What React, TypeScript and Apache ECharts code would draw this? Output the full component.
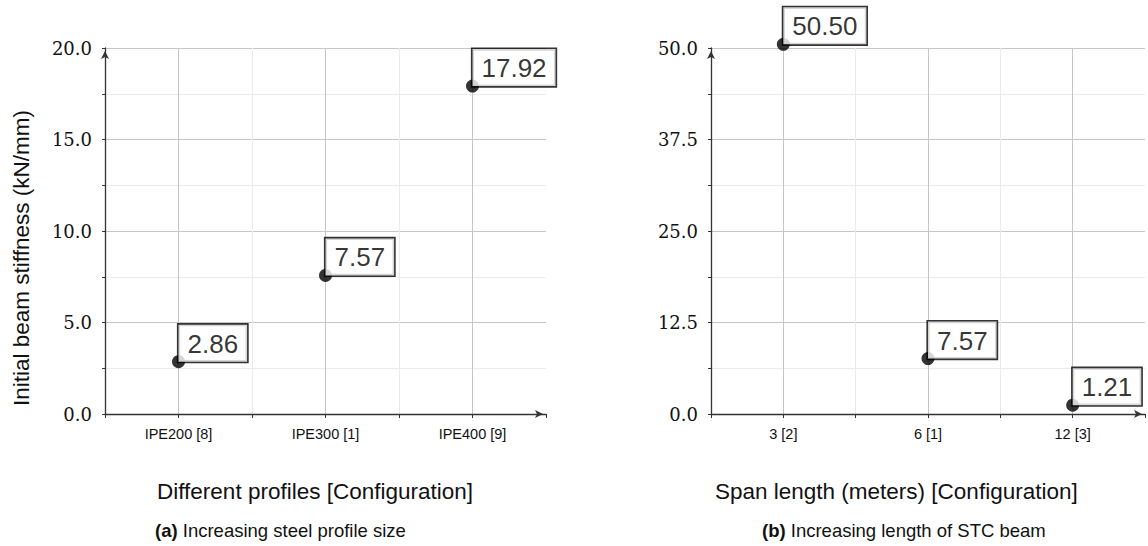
import React, { useEffect, useRef } from "react";
import * as echarts from "echarts";

const profileCategories = ["IPE200 [8]", "IPE300 [1]", "IPE400 [9]"];
const profileStiffness = [2.86, 7.57, 17.92];
const spanCategories = ["3 [2]", "6 [1]", "12 [3]"];
const spanStiffness = [50.5, 7.57, 1.21];

const leftYMax = 20;
const leftYStep = 2.5;
const leftYLabelStep = 5;
const rightYMax = 50;
const rightYStep = 6.25;
const rightYLabelStep = 12.5;

const yAxisTitle = "Initial beam stiffness (kN/mm)";
const leftXTitle = "Different profiles [Configuration]";
const rightXTitle = "Span length (meters) [Configuration]";
const leftCaptionTag = "(a)";
const leftCaption = " Increasing steel profile size";
const rightCaptionTag = "(b)";
const rightCaption = " Increasing length of STC beam";

const MAJOR = "#c6c6c6";
const MINOR = "#ebebeb";
const AXIS = "#333";
const SERIF = "'DejaVu Serif', 'Liberation Serif', serif";
const SANS = "'Liberation Sans', Arial, Helvetica, sans-serif";

function xAxisFor(cats: string[], gridIndex: number) {
  return {
    type: "value",
    gridIndex,
    min: 0,
    max: cats.length,
    interval: 0.5,
    axisLine: {
      show: true,
      lineStyle: { color: AXIS, width: 1.3 },
      symbol: ["none", "arrow"],
      symbolSize: [6, 8],
      symbolOffset: [0, -3],
    },
    axisTick: { show: true, length: 4, lineStyle: { color: AXIS } },
    axisLabel: {
      margin: 12,
      fontFamily: SANS,
      fontSize: 14.5,
      color: "#111",
      showMaxLabel: true,
      formatter: (v: number) => {
        const i = Math.round(v * 2);
        if (i % 2 === 1) return cats[(i - 1) / 2] ?? "";
        return "";
      },
    },
    splitLine: {
      show: true,
      showMaxLine: false,
      lineStyle: { color: [MINOR, MAJOR], width: 1 },
    },
  };
}

function yAxisFor(max: number, step: number, labelStep: number, gridIndex: number) {
  return {
    type: "value",
    gridIndex,
    min: 0,
    max,
    interval: step,
    axisLine: {
      show: true,
      lineStyle: { color: AXIS, width: 1.3 },
      symbol: ["none", "arrow"],
      symbolSize: [6, 8],
      symbolOffset: [0, -3],
    },
    axisTick: { show: true, length: 3, lineStyle: { color: AXIS } },
    axisLabel: {
      margin: 13,
      fontFamily: SERIF,
      fontSize: 18,
      color: "#111",
      formatter: (v: number) => {
        const r = v / labelStep;
        return Math.abs(r - Math.round(r)) < 1e-9 ? v.toFixed(1) : "";
      },
    },
    splitLine: {
      show: true,
      lineStyle: { color: [MAJOR, MINOR], width: 1 },
    },
  };
}

function seriesFor(values: number[], idx: number) {
  return {
    type: "scatter",
    xAxisIndex: idx,
    yAxisIndex: idx,
    clip: false,
    symbol: "circle",
    symbolSize: 13,
    itemStyle: { color: "#000" },
    data: values.map((v, i) => [i + 0.5, v]),
    label: {
      show: true,
      position: [6.5, 6.5],
      align: "left",
      verticalAlign: "bottom",
      formatter: (p: any) => (p.value[1] as number).toFixed(2),
      fontFamily: SANS,
      fontSize: 26,
      lineHeight: 26,
      color: "#000",
      backgroundColor: "#fff",
      borderColor: "#000",
      borderWidth: 1.6,
      padding: [6, 9, 5, 9],
    },
  };
}

function caption(x: number, tag: string, rest: string) {
  return {
    type: "text",
    x,
    y: 530,
    style: {
      text: `{b|${tag}}{r|${rest}}`,
      textAlign: "left",
      textVerticalAlign: "middle",
      rich: {
        b: { fontWeight: "bold", fontFamily: SANS, fontSize: 18.5, fill: "#111" },
        r: { fontFamily: SANS, fontSize: 18.5, fill: "#111" },
      },
    },
  };
}

export default function App() {
  const ref = useRef<HTMLDivElement>(null);
  useEffect(() => {
    if (!ref.current) return;
    const chart = echarts.init(ref.current, undefined, { renderer: "svg" });
    chart.setOption({
      animation: false,
      backgroundColor: "#fff",
      grid: [
        { left: 105, top: 48, width: 441, height: 366 },
        { left: 711, top: 48, width: 441, height: 366 },
      ],
      xAxis: [xAxisFor(profileCategories, 0), xAxisFor(spanCategories, 1)],
      yAxis: [
        yAxisFor(leftYMax, leftYStep, leftYLabelStep, 0),
        yAxisFor(rightYMax, rightYStep, rightYLabelStep, 1),
      ],
      series: [seriesFor(profileStiffness, 0), seriesFor(spanStiffness, 1)],
      graphic: [
        {
          type: "text",
          x: 21,
          y: 258,
          rotation: Math.PI / 2,
          style: {
            text: yAxisTitle,
            font: `22.5px ${SANS}`,
            fill: "#111",
            textAlign: "center",
            textVerticalAlign: "middle",
          },
        },
        {
          type: "text",
          x: 157,
          y: 491,
          style: {
            text: leftXTitle,
            font: `22.5px ${SANS}`,
            fill: "#111",
            textAlign: "left",
            textVerticalAlign: "middle",
          },
        },
        {
          type: "text",
          x: 715,
          y: 491,
          style: {
            text: rightXTitle,
            font: `22.5px ${SANS}`,
            fill: "#111",
            textAlign: "left",
            textVerticalAlign: "middle",
          },
        },
        caption(155, leftCaptionTag, leftCaption),
        caption(762, rightCaptionTag, rightCaption),
      ],
    });
    return () => chart.dispose();
  }, []);
  return (
    <div
      ref={ref}
      style={{ position: "fixed", left: 0, top: 0, width: 1148, height: 546 }}
    />
  );
}
